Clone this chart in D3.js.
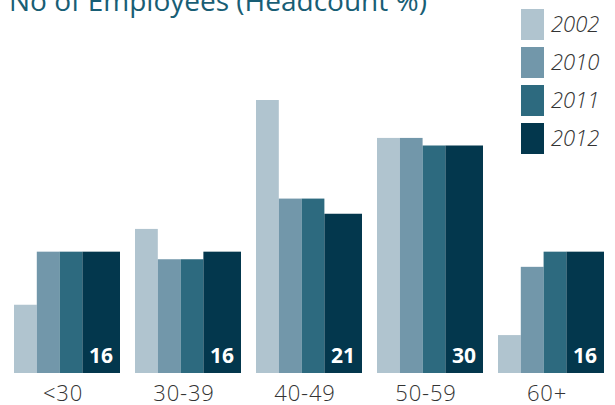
<!DOCTYPE html>
<html>
<head>
<meta charset="utf-8">
<script src="https://cdn.jsdelivr.net/npm/d3@7"></script>
<style>
  html, body { margin: 0; padding: 0; background: #fff; }
  svg { display: block; }
</style>
</head>
<body>
<svg id="chart" width="615" height="405"></svg>
<script>
// Age bands and headcount share (%) per year
const ageBands = ["<30", "30-39", "40-49", "50-59", "60+"];
const years = ["2002", "2010", "2011", "2012"];
const share2002 = [9, 19, 36, 31, 5];
const share2010 = [16, 15, 23, 31, 14];
const share2011 = [16, 15, 23, 30, 16];
const share2012 = [16, 16, 21, 30, 16];
const seriesValues = [share2002, share2010, share2011, share2012];
const labelledYear = "2012";

const colors = ["#b0c4cf", "#7297aa", "#2d6a7f", "#03374d"];
// relative bar widths inside a group (latest year drawn wider)
const barWeights = [1, 1, 1, 1.65];

const svg = d3.select("#chart");
const baseline = 373;

const x0 = d3.scaleBand().domain(ageBands).range([14, 604]).paddingInner(0.124).paddingOuter(0);
const y = d3.scaleLinear().domain([0, 36]).range([baseline, 100]);

const totalW = d3.sum(barWeights);
const cum = d3.cumsum([0, ...barWeights]);
const sub = d3.scaleLinear().domain([0, totalW]).range([0, x0.bandwidth()]);

const rows = [];
ageBands.forEach((band, i) => {
  years.forEach((yr, j) => {
    rows.push({ band, year: yr, j, value: seriesValues[j][i] });
  });
});

// title
svg.append("text")
  .attr("x", 9).attr("y", 11)
  .attr("font-family", "Open Sans, sans-serif")
  .attr("font-size", 28)
  .attr("fill", "#185e75")
  .text("No of Employees (Headcount %)");

// bars
svg.append("g").selectAll("rect")
  .data(rows)
  .join("rect")
  .attr("x", d => x0(d.band) + sub(cum[d.j]))
  .attr("width", d => sub(cum[d.j + 1]) - sub(cum[d.j]))
  .attr("y", d => y(d.value))
  .attr("height", d => y(0) - y(d.value))
  .attr("fill", d => colors[d.j]);

// value labels on latest year
svg.append("g").selectAll("text")
  .data(rows.filter(d => d.year === labelledYear))
  .join("text")
  .attr("x", d => x0(d.band) + sub(cum[d.j + 1]) - 7)
  .attr("y", baseline - 10)
  .attr("text-anchor", "end")
  .attr("font-family", "Open Sans, sans-serif")
  .attr("font-weight", 700)
  .attr("font-size", 21)
  .attr("fill", "#ffffff")
  .text(d => d.value);

// category axis
const xAxis = d3.axisBottom(x0).tickSize(0).tickPadding(0);
const gx = svg.append("g").attr("transform", `translate(-4,${baseline})`).call(xAxis);
gx.select(".domain").remove();
gx.selectAll("text")
  .attr("y", 28)
  .attr("dy", 0)
  .attr("font-family", "Open Sans, sans-serif")
  .attr("font-weight", 300)
  .attr("font-size", 22)
  .attr("letter-spacing", 0.8)
  .attr("fill", "#333333");

// legend
const legend = svg.append("g").selectAll("g")
  .data(years)
  .join("g")
  .attr("transform", (d, i) => `translate(521,${9 + i * 38})`);
legend.append("rect")
  .attr("width", 23).attr("height", 31)
  .attr("fill", (d, i) => colors[i]);
legend.append("text")
  .attr("x", 30).attr("y", 23)
  .attr("font-family", "Open Sans, sans-serif")
  .attr("font-style", "italic")
  .attr("font-weight", 300)
  .attr("font-size", 22)
  .attr("fill", "#333333")
  .text(d => d);
</script>
</body>
</html>
